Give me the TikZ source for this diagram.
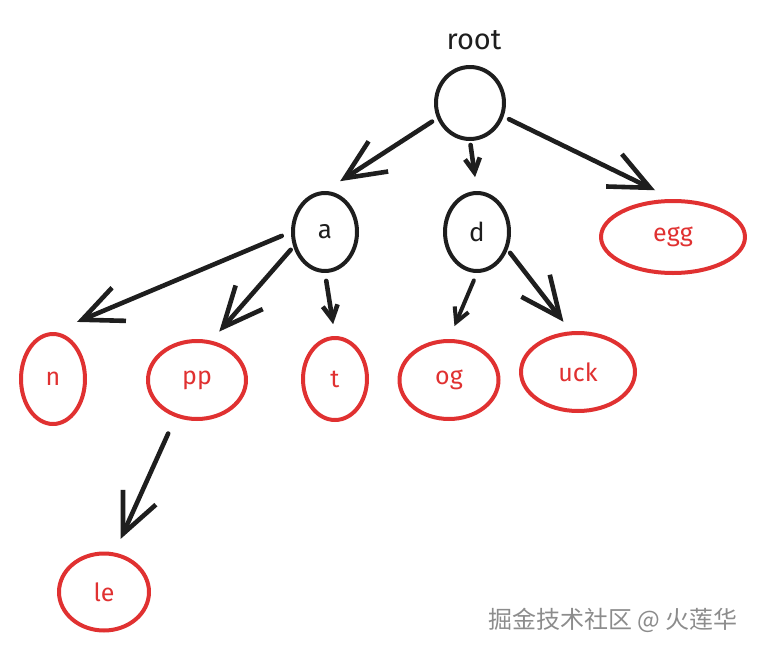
\documentclass[tikz,border=0pt]{standalone}
\usepackage{fontspec}
\setmainfont{Fira Sans}
\newfontfamily\cjkfont{Noto Sans CJK SC}
\usetikzlibrary{arrows.meta,shapes.geometric}
\providecommand{\Ink}{1E1E1E}
\providecommand{\Leaf}{E03131}
\providecommand{\Mark}{8C8C8C}
\newcommand{\Stroke}{4pt}
\newcommand{\Shaft}{4.6pt}
\definecolor{ink}{HTML}{\Ink}
\definecolor{leaf}{HTML}{\Leaf}
\definecolor{mark}{HTML}{\Mark}

\begin{document}
\begin{tikzpicture}[x=1pt,y=-1pt, line join=round, line cap=round,
  inner/.style={ellipse,draw=ink,text=ink,line width=\Stroke,inner sep=0pt,
    font=\fontsize{26}{30}\selectfont},
  word/.style={ellipse,draw=leaf,text=leaf,line width=\Stroke,inner sep=0pt,
    font=\fontsize{25}{30}\selectfont},
  edge/.style={draw=ink,line width=\Shaft,-{Straight Barb[length=40pt,width=36pt]}},
  nub/.style={draw=ink,line width=\Shaft,-{Straight Barb[length=14pt,width=15pt]}}]

  \useasboundingbox (0,0) rectangle (763,653);

  % ---- the root and its label ---------------------------------------------
  \node[text=ink,font=\fontsize{29}{32}\selectfont] (rootlabel) at (474,40) {root};
  \node[inner,minimum width=68pt,minimum height=72pt] (root) at (470,103) {};

  % ---- first level --------------------------------------------------------
  \node[inner,minimum width=64pt,minimum height=78pt] (a) at (325,232) {a};
  \node[inner,minimum width=64pt,minimum height=78pt] (d) at (477,232) {d};
  \node[word,minimum width=144pt,minimum height=72pt] (egg) at (673,237) {egg};

  % ---- leaves -------------------------------------------------------------
  \node[word,minimum width=64pt,minimum height=90pt] (n) at (53,379) {n};
  \node[word,minimum width=98pt,minimum height=78pt] (pp) at (197,380) {pp};
  \node[word,minimum width=64pt,minimum height=82pt] (t) at (335,379) {t};
  \node[word,minimum width=99pt,minimum height=78pt] (og) at (449,380) {og};
  \node[word,minimum width=114pt,minimum height=78pt] (uck) at (578,372) {uck};
  \node[word,minimum width=90pt,minimum height=77pt] (le) at (104,592) {le};

  % ---- arrows -------------------------------------------------------------
  \draw[edge,shorten <=6pt,shorten >=18pt] (root.205) -- (a.north);
  \draw[nub,shorten <=4pt,shorten >=14pt] (root.south) -- (d.north);
  \draw[edge,shorten <=6pt,shorten >=20pt] (root.-22) -- (egg.north);
  \draw[edge,shorten <=10pt,shorten >=26pt] (a.180) -- (n.north);
  \draw[edge,shorten <=4pt,shorten >=12pt] (a.205) -- (pp.70);
  \draw[nub,shorten <=8pt,shorten >=12pt] (a.south) -- (t.north);
  \draw[nub,line width=4pt,shorten <=8pt,shorten >=14pt] (d.south) -- (og.north);
  \draw[edge,shorten <=4pt,shorten >=12pt] (d.-30) -- (uck.100);
  \draw[edge,shorten <=18pt,shorten >=15pt] (pp.240) -- (le.75);

  % ---- credit -------------------------------------------------------------
  \node[text=mark,font=\cjkfont\fontsize{24}{28}\selectfont] (credit) at (613,620)
    {掘金技术社区 @ 火莲华};

\end{tikzpicture}
\end{document}
